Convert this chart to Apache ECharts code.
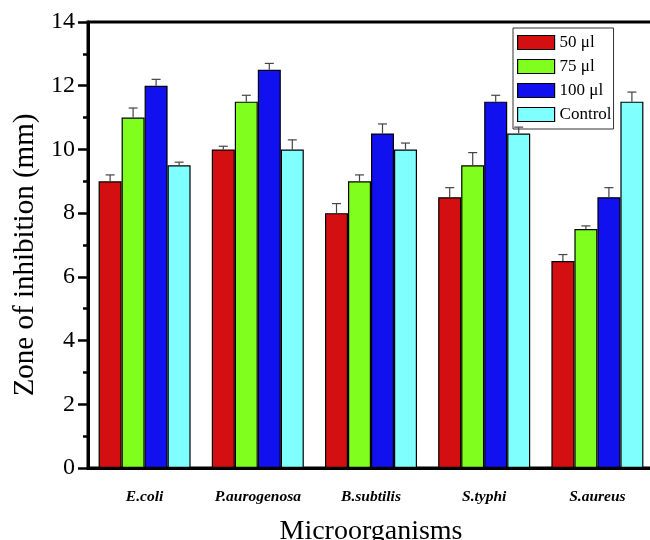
<!DOCTYPE html>
<html>
<head>
<meta charset="utf-8">
<script src="https://cdn.jsdelivr.net/npm/echarts@6/dist/echarts.min.js"></script>
<style>
  html, body { margin: 0; padding: 0; background: #fff; }
  #chart { width: 650px; height: 540px; }
</style>
</head>
<body>
<div id="chart"></div>
<script>
// data
const organisms = ['E.coli', 'P.aurogenosa', 'B.subtilis', 'S.typhi', 'S.aureus'];
const seriesNames = ['50 μl', '75 μl', '100 μl', 'Control'];

const vol50 = [9, 10, 8, 8.5, 6.5];
const vol75 = [11, 11.5, 9, 9.5, 7.5];
const vol100 = [12, 12.5, 10.5, 11.5, 8.5];
const control = [9.5, 10, 10, 10.5, 11.5];

const err50 = [0.2, 0.1, 0.3, 0.3, 0.2];
const err75 = [0.3, 0.2, 0.2, 0.4, 0.1];
const err100 = [0.2, 0.2, 0.3, 0.2, 0.3];
const errControl = [0.1, 0.3, 0.2, 0.2, 0.3];

const colors = ['#d40f12', '#80ff1f', '#1111f0', '#80ffff'];
const values = [vol50, vol75, vol100, control];
const errors = [err50, err75, err100, errControl];

const serif = 'Liberation Serif';
const BAR_W = 23;

const chart = echarts.init(document.getElementById('chart'));

const barSeries = values.map((vals, i) => ({
  name: seriesNames[i],
  type: 'bar',
  data: vals,
  barWidth: BAR_W,
  barGap: '0%',
  itemStyle: { color: colors[i], borderColor: '#000', borderWidth: 1.2 },
  z: 2,
}));

// upward error whiskers with a cap, placed over each bar
const errSeries = errors.map((errs, i) => ({
  name: 'err' + i,
  type: 'custom',
  data: errs.map((e, k) => [k, values[i][k], e]),
  z: 5,
  silent: true,
  renderItem(params, api) {
    const base = api.coord([api.value(0), api.value(1)]);
    const top = api.coord([api.value(0), api.value(1) + api.value(2)]);
    const cx = base[0] + (i - 1.5) * BAR_W;
    const style = { stroke: '#444', lineWidth: 1.2 };
    return {
      type: 'group',
      children: [
        { type: 'line', shape: { x1: cx, y1: base[1], x2: cx, y2: top[1] }, style },
        { type: 'line', shape: { x1: cx - 4.5, y1: top[1], x2: cx + 4.5, y2: top[1] }, style },
      ],
    };
  },
}));

const option = {
  animation: false,
  backgroundColor: '#fff',
  grid: {
    left: 88,
    top: 22,
    width: 566,
    height: 446,
    outerBoundsMode: 'none',
    containLabel: false,
    show: true,
    borderColor: '#000',
    borderWidth: 3,
  },
  legend: {
    data: seriesNames,
    orient: 'vertical',
    left: 513,
    top: 28,
    icon: 'rect',
    itemWidth: 37,
    itemHeight: 14,
    itemGap: 7,
    padding: [6, 2, 6, 4],
    borderColor: '#333',
    borderWidth: 1,
    textStyle: { fontFamily: serif, fontSize: 17, color: '#000' },
    itemStyle: { borderColor: '#000', borderWidth: 1.2 },
  },
  xAxis: [
    {
      type: 'category',
      data: organisms,
      position: 'bottom',
      name: 'Microorganisms',
      nameLocation: 'middle',
      nameGap: 50,
      nameTextStyle: { fontFamily: serif, fontSize: 28, color: '#000' },
      axisLine: { lineStyle: { color: '#000', width: 3 } },
      axisTick: { alignWithLabel: true, length: 10, lineStyle: { width: 2.5, color: '#000' } },
      axisLabel: {
        margin: 21,
        fontFamily: serif,
        fontSize: 15.5,
        fontWeight: 'bold',
        fontStyle: 'italic',
        color: '#000',
      },
    },
    {
      type: 'category',
      data: organisms,
      position: 'bottom',
      axisLine: { show: false },
      axisTick: { length: 5, lineStyle: { width: 2.5, color: '#000' } },
      axisLabel: { show: false },
    },
  ],
  yAxis: {
    type: 'value',
    min: 0,
    max: 14,
    interval: 2,
    name: 'Zone of inhibition (mm)',
    nameLocation: 'middle',
    nameGap: 47,
    nameTextStyle: { fontFamily: serif, fontSize: 29, color: '#000', padding: [0, 20, 0, 0] },
    axisLine: { show: true, lineStyle: { color: '#000', width: 3 } },
    axisTick: { show: true, length: 10, lineStyle: { width: 2.5, color: '#000' } },
    minorTick: { show: true, splitNumber: 2, length: 5, lineStyle: { width: 2.5, color: '#000' } },
    splitLine: { show: false },
    axisLabel: { margin: 13, fontFamily: serif, fontSize: 24, color: '#000' },
  },
  series: [...barSeries, ...errSeries],
};

chart.setOption(option);
</script>
</body>
</html>
